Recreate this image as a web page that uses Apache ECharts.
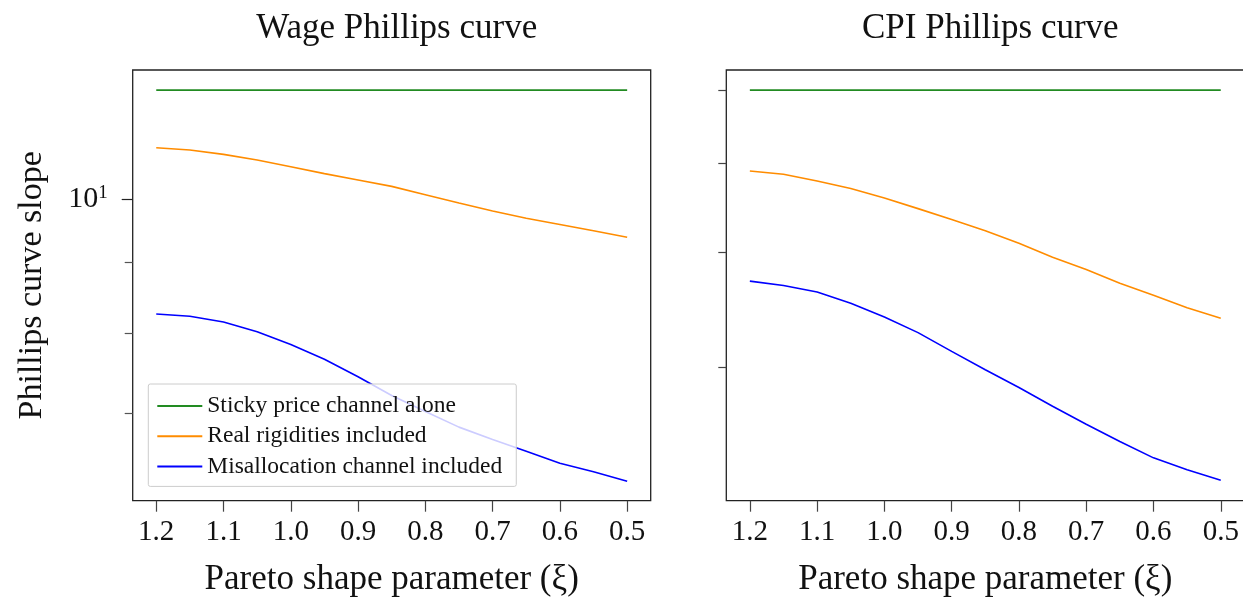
<!DOCTYPE html>
<html>
<head>
<meta charset="utf-8">
<script src="https://cdn.jsdelivr.net/npm/echarts@6/dist/echarts.min.js"></script>
<style>
html, body { margin: 0; padding: 0; background: #fff; }
#chart { width: 1243px; height: 599px; }
</style>
</head>
<body>
<div id="chart"></div>
<script>
// Pareto shape parameter (x axis, drawn reversed)
var xi = [1.2, 1.15, 1.1, 1.05, 1.0, 0.95, 0.9, 0.85, 0.8, 0.75, 0.7, 0.65, 0.6, 0.55, 0.5];
var xTicks = [1.2, 1.1, 1.0, 0.9, 0.8, 0.7, 0.6, 0.5];

// wage Phillips curve
var wageSticky = [12.0, 12.0, 12.0, 12.0, 12.0, 12.0, 12.0, 12.0, 12.0, 12.0, 12.0, 12.0, 12.0, 12.0, 12.0];
var wageReal   = [10.90, 10.86, 10.78, 10.68, 10.56, 10.44, 10.33, 10.22, 10.08, 9.94, 9.81, 9.69, 9.59, 9.49, 9.39];
var wageMis    = [8.26, 8.23, 8.15, 8.02, 7.85, 7.66, 7.44, 7.21, 7.02, 6.84, 6.70, 6.57, 6.44, 6.35, 6.25];

// CPI Phillips curve
var cpiSticky = [6.0, 6.0, 6.0, 6.0, 6.0, 6.0, 6.0, 6.0, 6.0, 6.0, 6.0, 6.0, 6.0, 6.0, 6.0];
var cpiReal   = [4.90, 4.86, 4.78, 4.69, 4.58, 4.46, 4.34, 4.22, 4.09, 3.95, 3.83, 3.70, 3.59, 3.48, 3.39];
var cpiMis    = [3.72, 3.68, 3.62, 3.52, 3.40, 3.27, 3.12, 2.98, 2.85, 2.72, 2.60, 2.49, 2.39, 2.32, 2.26];

var wageMinorTicks = [7, 8, 9];
var wageMajorTicks = [10];
var cpiMinorTicks = [3, 4, 5, 6];

var names = ['Sticky price channel alone', 'Real rigidities included', 'Misallocation channel included'];
var colors = ['#228b22', '#ff8c00', '#0000ff'];

var FONT = '"Liberation Serif", "DejaVu Serif", serif';

function pairs(arr) {
    return xi.map(function (x, i) { return [x, arr[i]]; });
}

function xAxisFor(gridIndex) {
    return {
        type: 'value',
        gridIndex: gridIndex,
        inverse: true,
        min: 0.465,
        max: 1.235,
        name: 'Pareto shape parameter (ξ)',
        nameLocation: 'middle',
        nameGap: 62,
        nameTextStyle: { fontFamily: FONT, fontSize: 35, color: '#111' },
        axisLine: { show: false },
        splitLine: { show: false },
        axisTick: { show: true, length: 11, lineStyle: { color: '#444', width: 1.2 }, customValues: xTicks },
        axisLabel: {
            fontFamily: FONT, fontSize: 29, color: '#111', margin: 17,
            customValues: xTicks,
            formatter: function (v) { return v.toFixed(1); }
        }
    };
}

function line(name, color, data, xIdx, yIdx) {
    return {
        name: name,
        type: 'line',
        xAxisIndex: xIdx,
        yAxisIndex: yIdx,
        data: pairs(data),
        showSymbol: false,
        symbol: 'none',
        lineStyle: { color: color, width: 1.6 },
        itemStyle: { color: color },
        z: 2
    };
}

var myChart = echarts.init(document.getElementById('chart'));
var option = {
    backgroundColor: '#fff',
    animation: false,
    title: [
        { text: 'Wage Phillips curve', left: 391.7, top: 6, textAlign: 'center',
          textStyle: { fontFamily: FONT, fontSize: 35, fontWeight: 'normal', color: '#111' } },
        { text: 'CPI Phillips curve', left: 985.3, top: 6, textAlign: 'center',
          textStyle: { fontFamily: FONT, fontSize: 35, fontWeight: 'normal', color: '#111' } }
    ],
    grid: [
        { left: 132.7, top: 70, width: 518, height: 430.7, outerBoundsMode: 'none', containLabel: false,
          show: true, borderColor: '#222', borderWidth: 1.3, backgroundColor: 'transparent' },
        { left: 726.3, top: 70, width: 518, height: 430.7, outerBoundsMode: 'none', containLabel: false,
          show: true, borderColor: '#222', borderWidth: 1.3, backgroundColor: 'transparent' }
    ],
    legend: {
        data: names,
        orient: 'vertical',
        left: 148.3,
        top: 384,
        icon: 'rect',
        itemWidth: 45,
        itemHeight: 2,
        itemGap: 6.2,
        padding: [10, 14, 8, 9],
        backgroundColor: 'rgba(255,255,255,0.8)',
        borderColor: '#cccccc',
        borderWidth: 1,
        borderRadius: 2,
        selectedMode: false,
        textStyle: { fontFamily: FONT, fontSize: 23.5, color: '#111', lineHeight: 20 }
    },
    xAxis: [xAxisFor(0), xAxisFor(1)],
    yAxis: [
        {
            type: 'log', logBase: 10, gridIndex: 0, position: 'left', min: 6.05, max: 12.41,
            name: 'Phillips curve slope', nameLocation: 'middle', nameGap: 84,
            nameTextStyle: { fontFamily: FONT, fontSize: 34, color: '#111' },
            axisLine: { show: false }, splitLine: { show: false },
            axisTick: { show: true, length: 8, lineStyle: { color: '#555', width: 1.2 }, customValues: wageMinorTicks },
            axisLabel: { show: false }
        },
        {
            type: 'log', logBase: 10, gridIndex: 0, position: 'left', offset: 0, min: 6.05, max: 12.41,
            axisLine: { show: false }, splitLine: { show: false },
            axisTick: { show: true, length: 11, lineStyle: { color: '#222', width: 1.2 }, customValues: wageMajorTicks },
            axisLabel: {
                show: true, margin: 25, customValues: wageMajorTicks,
                formatter: function () { return '10{sup|1}'; },
                fontFamily: FONT, fontSize: 30, color: '#111',
                rich: { sup: { fontFamily: FONT, fontSize: 19, color: '#111', verticalAlign: 'top', padding: [0, 0, 12, 0] } }
            }
        },
        {
            type: 'log', logBase: 10, gridIndex: 1, position: 'left', min: 2.147, max: 6.31,
            axisLine: { show: false }, splitLine: { show: false },
            axisTick: { show: true, length: 8, lineStyle: { color: '#444', width: 1.2 }, customValues: cpiMinorTicks },
            axisLabel: { show: false }
        }
    ],
    series: [
        line(names[0], colors[0], wageSticky, 0, 0),
        line(names[1], colors[1], wageReal, 0, 0),
        line(names[2], colors[2], wageMis, 0, 0),
        line(names[0], colors[0], cpiSticky, 1, 2),
        line(names[1], colors[1], cpiReal, 1, 2),
        line(names[2], colors[2], cpiMis, 1, 2)
    ]
};
myChart.setOption(option);

window.onresize = function () {
    myChart.resize();
};
</script>
</body>
</html>
